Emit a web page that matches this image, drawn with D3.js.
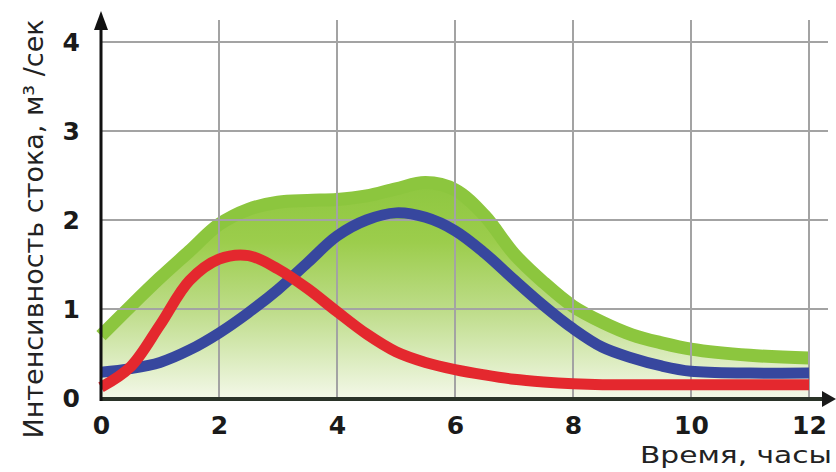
<!DOCTYPE html>
<html>
<head>
<meta charset="utf-8">
<script src="https://cdn.jsdelivr.net/npm/d3@7"></script>
<style>
  html, body { margin: 0; padding: 0; background: #ffffff; }
  svg { display: block; }
</style>
</head>
<body>
<svg id="chart" width="836" height="472"></svg>
<script>
// ---- data ----
const hours = [0, 0.5, 1, 1.5, 2, 2.5, 3, 3.5, 4, 4.5, 5, 5.5, 6, 6.5, 7, 7.5, 8, 8.5, 9, 9.5, 10, 11, 12];
const greenTotal = [0.70, 1.03, 1.35, 1.65, 1.95, 2.12, 2.20, 2.22, 2.23, 2.27, 2.35, 2.42, 2.34, 2.05, 1.62, 1.30, 1.03, 0.85, 0.71, 0.62, 0.55, 0.48, 0.45];
const blueFlow  = [0.29, 0.33, 0.40, 0.54, 0.73, 0.96, 1.22, 1.52, 1.82, 2.00, 2.08, 2.03, 1.88, 1.63, 1.33, 1.04, 0.78, 0.57, 0.45, 0.36, 0.30, 0.28, 0.28];
const redFlow   = [0.12, 0.35, 0.82, 1.32, 1.56, 1.60, 1.45, 1.23, 0.97, 0.72, 0.52, 0.40, 0.32, 0.26, 0.21, 0.18, 0.16, 0.15, 0.15, 0.15, 0.15, 0.15, 0.15];
const xTicks = [0, 2, 4, 6, 8, 10, 12];
const yTicks = [0, 1, 2, 3, 4];
const xTitle = "Время, часы";
const yTitle = "Интенсивность стока, м³ /сек";

// ---- layout ----
const svg = d3.select("#chart");
const x = d3.scaleLinear().domain([0, 12]).range([101, 809]);
const y = d3.scaleLinear().domain([0, 4]).range([398, 42]);

const defs = svg.append("defs");
const grad = defs.append("linearGradient")
  .attr("id", "gfill").attr("gradientUnits", "userSpaceOnUse")
  .attr("x1", 0).attr("x2", 0).attr("y1", y(2.5)).attr("y2", y(0));
grad.append("stop").attr("offset", "0").attr("stop-color", "#8cc63e");
grad.append("stop").attr("offset", "0.3").attr("stop-color", "#9ccd4c");
grad.append("stop").attr("offset", "0.6").attr("stop-color", "#bddc88");
grad.append("stop").attr("offset", "1").attr("stop-color", "#f3f8e8");

const green = hours.map((h, i) => [h, greenTotal[i]]);
const blue = hours.map((h, i) => [h, blueFlow[i]]);
const red = hours.map((h, i) => [h, redFlow[i]]);

const curve = d3.curveCatmullRom.alpha(0.5);
const area = d3.area().x(d => x(d[0])).y0(y(0)).y1(d => y(d[1])).curve(curve);
const line = d3.line().x(d => x(d[0])).y(d => y(d[1])).curve(curve);

// green area fill
svg.append("path").datum(green).attr("d", area).attr("fill", "url(#gfill)");
// green top band
svg.append("path").datum(green).attr("d", line)
  .attr("fill", "none").attr("stroke", "#8cc63e").attr("stroke-width", 13);

// grid
const grid = svg.append("g").attr("stroke", "#a3a3a3").attr("stroke-width", 2);
grid.selectAll("line.v").data(xTicks.filter(d => d > 0)).enter().append("line")
  .attr("x1", d => x(d)).attr("x2", d => x(d)).attr("y1", 20).attr("y2", y(0));
grid.selectAll("line.h").data(yTicks.filter(d => d > 0)).enter().append("line")
  .attr("x1", x(0)).attr("x2", 828).attr("y1", d => y(d)).attr("y2", d => y(d));

// flow lines
svg.append("path").datum(blue).attr("d", line)
  .attr("fill", "none").attr("stroke", "#37479e").attr("stroke-width", 11);
svg.append("path").datum(red).attr("d", line)
  .attr("fill", "none").attr("stroke", "#e4282e").attr("stroke-width", 11);

// axes lines with arrows
svg.append("line").attr("x1", x(0)).attr("x2", 826).attr("y1", y(0) + 1).attr("y2", y(0) + 1)
  .attr("stroke", "#2a3328").attr("stroke-width", 4);
svg.append("path").attr("d", `M836,${y(0) + 1} L822,${y(0) - 7} L822,${y(0) + 9} Z`).attr("fill", "#1a1a1a");
svg.append("line").attr("x1", x(0)).attr("x2", x(0)).attr("y1", y(0) + 3).attr("y2", 26)
  .attr("stroke", "#111").attr("stroke-width", 3);
svg.append("path").attr("d", `M${x(0)},11 L${x(0) - 7},30 L${x(0) + 7},30 Z`).attr("fill", "#111");

// tick labels via d3 axes
const xAxis = svg.append("g").attr("transform", `translate(0,${y(0)})`)
  .call(d3.axisBottom(x).tickValues(xTicks).tickSize(0).tickFormat(d3.format("d")));
xAxis.select(".domain").remove();
xAxis.selectAll("text").attr("dy", null).attr("y", 36)
  .attr("font-family", "DejaVu Sans").attr("font-weight", "bold").attr("font-size", 25).attr("fill", "#1a1a1a");

const yAxis = svg.append("g").attr("transform", `translate(${x(0)},0)`)
  .call(d3.axisLeft(y).tickValues(yTicks).tickSize(0).tickPadding(21).tickFormat(d3.format("d")));
yAxis.select(".domain").remove();
yAxis.selectAll("text")
  .attr("font-family", "DejaVu Sans").attr("font-weight", "bold").attr("font-size", 25).attr("fill", "#1a1a1a");

// titles
svg.append("text").attr("x", 832).attr("y", 463).attr("text-anchor", "end")
  .attr("font-family", "DejaVu Sans").attr("font-size", 23.5).attr("fill", "#222")
  .attr("textLength", 192).attr("lengthAdjust", "spacingAndGlyphs")
  .text(xTitle);

svg.append("text")
  .attr("transform", "translate(43,229) rotate(-90)")
  .attr("text-anchor", "middle")
  .attr("font-family", "DejaVu Sans").attr("font-size", 27).attr("fill", "#222")
  .text(yTitle);
</script>
</body>
</html>
